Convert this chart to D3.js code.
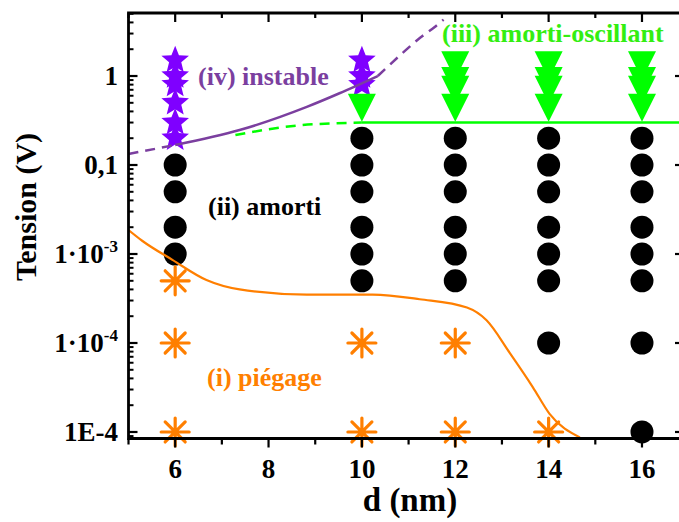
<!DOCTYPE html>
<html><head><meta charset="utf-8">
<script src="https://cdn.jsdelivr.net/npm/d3@7/dist/d3.min.js"></script>
<style>
html,body{margin:0;padding:0;background:#fff;}
text{font-family:"Liberation Serif","Times New Roman",serif;font-weight:bold;}
</style></head>
<body><svg id="c" width="679" height="522"></svg>
<script>
// ---- data ----
const xTicksMajor = [6, 8, 10, 12, 14, 16];
const xTicksMinor = [5, 7, 9, 11, 13, 15];
const yTickValues = [1, 0.1, 0.01, 0.001, 0.0001];
const yTickLabels = [["1", ""], ["0,1", ""], ["1·10", "-3"], ["1·10", "-4"], ["1E-4", ""]];

// (iv) instable : stars
const starX = [6, 6, 6, 6, 6, 6, 10, 10, 10];
const starY = [1.5, 1, 0.8, 0.5, 0.3, 0.2, 1.5, 1, 0.8];
// (iii) amorti-oscillant : down triangles
const triX = [10, 12, 12, 12, 12, 14, 14, 14, 14, 16, 16, 16, 16];
const triY = [0.5, 1.5, 1, 0.8, 0.5, 1.5, 1, 0.8, 0.5, 1.5, 1, 0.8, 0.5];
// (ii) amorti : circles
const circX = [6, 6, 6, 6,
  10, 10, 10, 10, 10, 10,
  12, 12, 12, 12, 12, 12,
  14, 14, 14, 14, 14, 14, 14,
  16, 16, 16, 16, 16, 16, 16, 16];
const circY = [0.1, 0.05, 0.02, 0.01,
  0.2, 0.1, 0.05, 0.02, 0.01, 0.005,
  0.2, 0.1, 0.05, 0.02, 0.01, 0.005,
  0.2, 0.1, 0.05, 0.02, 0.01, 0.005, 0.001,
  0.2, 0.1, 0.05, 0.02, 0.01, 0.005, 0.001, 0.0001];
// (i) piégage : asterisks
const astX = [6, 6, 6, 10, 10, 12, 12, 14];
const astY = [0.005, 0.001, 0.0001, 0.001, 0.0001, 0.001, 0.0001, 0.0001];

// boundary curves
const purpleDashL_X = [5, 6];
const purpleDashL_Y = [0.133, 0.168];
const purpleSolidX = [6, 7.38, 8.82, 9.52, 10.34];
const purpleSolidY = [0.168, 0.247, 0.45, 0.64, 1.0];
const purpleDashR_X = [10.34, 10.87, 11.24, 11.56, 11.75];
const purpleDashR_Y = [1.0, 1.81, 2.67, 3.55, 4.3];
const greenDashX = [7.29, 8.68, 10];
const greenDashY = [0.217, 0.28, 0.3];
const greenSolidX = [10, 16.9];
const greenSolidY = [0.3, 0.3];
const orangeX = [5, 5.3, 5.94, 6.67, 7.38, 8.82, 10.23, 11.24, 12.25, 12.67, 13.17, 13.66, 14.02, 14.67];
const orangeY = [0.0186, 0.014, 0.0086, 0.0051, 0.0040, 0.0035, 0.0035, 0.0031, 0.0025, 0.0018, 0.00077, 0.00032, 0.00016, 0.000087];

// ---- layout ----
const L = 128.5, R = 684, T = 13, B = 438.5;
const x = d3.scaleLinear().domain([5, 16.9]).range([L, R]);
const y = d3.scaleLog().domain([8.45e-5, 5.105]).range([B, T]);

const svg = d3.select("#c");
svg.append("defs").append("clipPath").attr("id", "clip")
  .append("rect").attr("x", L).attr("y", T).attr("width", R - L).attr("height", B - T);

const PURPLE = "#7f00ff", PURPLE_LINE = "#7b3f9f", GREEN = "#00ff00", ORANGE = "#ff7f00";

// markers
const marks = svg.append("g");
marks.selectAll(".c").data(circX.map((d, i) => [d, circY[i]])).join("circle")
  .attr("cx", d => x(d[0])).attr("cy", d => y(d[1])).attr("r", 11.5).attr("fill", "#000");

function starPath(Ro, Ri) {
  let p = [];
  for (let k = 0; k < 10; k++) {
    const r = k % 2 ? Ri : Ro, a = -Math.PI / 2 + k * Math.PI / 5;
    p.push([r * Math.cos(a), r * Math.sin(a)]);
  }
  return "M" + p.map(q => q.join(",")).join("L") + "Z";
}
const sp = starPath(14.5, 6.4);
marks.selectAll(".s").data(starX.map((d, i) => [d, starY[i]])).join("path")
  .attr("d", sp).attr("transform", d => `translate(${x(d[0])},${y(d[1])})`).attr("fill", PURPLE);

const tp = "M-14,-9L14,-9L0,19Z";
marks.selectAll(".t").data(triX.map((d, i) => [d, triY[i]])).join("path")
  .attr("d", tp).attr("transform", d => `translate(${x(d[0])},${y(d[1])})`).attr("fill", GREEN);

const ap = "M0,-14L0,14M-14,0L14,0M-10,-10L10,10M10,-10L-10,10";
marks.selectAll(".a").data(astX.map((d, i) => [d, astY[i]])).join("path")
  .attr("d", ap).attr("transform", d => `translate(${x(d[0])},${y(d[1])})`)
  .attr("stroke", ORANGE).attr("stroke-width", 3.2).attr("fill", "none").attr("stroke-linecap", "round");

// curves
const line = d3.line().x(d => x(d[0])).y(d => y(d[1])).curve(d3.curveMonotoneX);
const curves = svg.append("g").attr("clip-path", "url(#clip)").attr("fill", "none");
function curve(xs, ys, color, w, dash) {
  const p = curves.append("path").attr("d", line(xs.map((d, i) => [d, ys[i]])))
    .attr("stroke", color).attr("stroke-width", w);
  if (dash) p.attr("stroke-dasharray", dash);
}
curve(greenDashX, greenDashY, GREEN, 2.5, "10,7");
curve(greenSolidX, greenSolidY, GREEN, 2.5);
curve(purpleDashL_X, purpleDashL_Y, PURPLE_LINE, 2.5, "10,7");
curve(purpleSolidX, purpleSolidY, PURPLE_LINE, 2.5);
curve(purpleDashR_X, purpleDashR_Y, PURPLE_LINE, 2.5, "10,7");
curve(orangeX, orangeY, ORANGE, 2.2);

// axes
const ax = svg.append("g").attr("stroke", "#000").attr("fill", "none");
ax.append("path").attr("d", `M${L},${T}H${R}V${B}H${L}Z`).attr("stroke-width", 2.8);
xTicksMajor.forEach(v => {
  ax.append("line").attr("x1", x(v)).attr("x2", x(v)).attr("y1", B).attr("y2", B + 9).attr("stroke-width", 2.2);
  ax.append("line").attr("x1", x(v)).attr("x2", x(v)).attr("y1", T).attr("y2", T + 9).attr("stroke-width", 2.2);
});
xTicksMinor.forEach(v => {
  ax.append("line").attr("x1", x(v)).attr("x2", x(v)).attr("y1", B).attr("y2", B + 6).attr("stroke-width", 2.2);
  ax.append("line").attr("x1", x(v)).attr("x2", x(v)).attr("y1", T).attr("y2", T + 5).attr("stroke-width", 2.2);
});
const yMinor = [];
for (let e = -5; e <= 0; e++) for (let m = 2; m <= 9; m++) {
  const v = m * Math.pow(10, e);
  if (v > 8.45e-5 && v < 5.105) yMinor.push(v);
}
yTickValues.forEach(v => {
  ax.append("line").attr("x1", L).attr("x2", L + 9).attr("y1", y(v)).attr("y2", y(v)).attr("stroke-width", 2.2);
  ax.append("line").attr("x1", R).attr("x2", R - 9).attr("y1", y(v)).attr("y2", y(v)).attr("stroke-width", 2.2);
});
yMinor.forEach(v => {
  ax.append("line").attr("x1", L).attr("x2", L + 5).attr("y1", y(v)).attr("y2", y(v)).attr("stroke-width", 2);
  ax.append("line").attr("x1", R).attr("x2", R - 5).attr("y1", y(v)).attr("y2", y(v)).attr("stroke-width", 2);
});

// tick labels
const tl = svg.append("g").attr("font-size", 27).attr("fill", "#000");
xTicksMajor.forEach(v => {
  tl.append("text").attr("x", x(v)).attr("y", 478).attr("text-anchor", "middle").text(v);
});
yTickValues.forEach((v, i) => {
  const t = tl.append("text").attr("x", 118).attr("y", y(v) + 9).attr("text-anchor", "end");
  t.append("tspan").text(yTickLabels[i][0]);
  if (yTickLabels[i][1]) t.append("tspan").attr("font-size", 17).attr("dy", -11).text(yTickLabels[i][1]);
});

// axis titles
svg.append("text").attr("x", 410).attr("y", 511).attr("text-anchor", "middle").attr("font-size", 33).text("d (nm)");
svg.append("text").attr("transform", "translate(36,207) rotate(-90)").attr("text-anchor", "middle")
  .attr("font-size", 30).text("Tension (V)");

// region labels
svg.append("text").attr("x", 198).attr("y", 85).attr("font-size", 26).attr("fill", PURPLE_LINE).text("(iv) instable");
svg.append("text").attr("x", 442).attr("y", 42).attr("font-size", 26).attr("fill", "#33ee11").text("(iii) amorti-oscillant");
svg.append("text").attr("x", 208).attr("y", 215).attr("font-size", 26).attr("fill", "#000").text("(ii) amorti");
svg.append("text").attr("x", 207).attr("y", 386).attr("font-size", 26).attr("fill", ORANGE).text("(i) piégage");
</script></body></html>
